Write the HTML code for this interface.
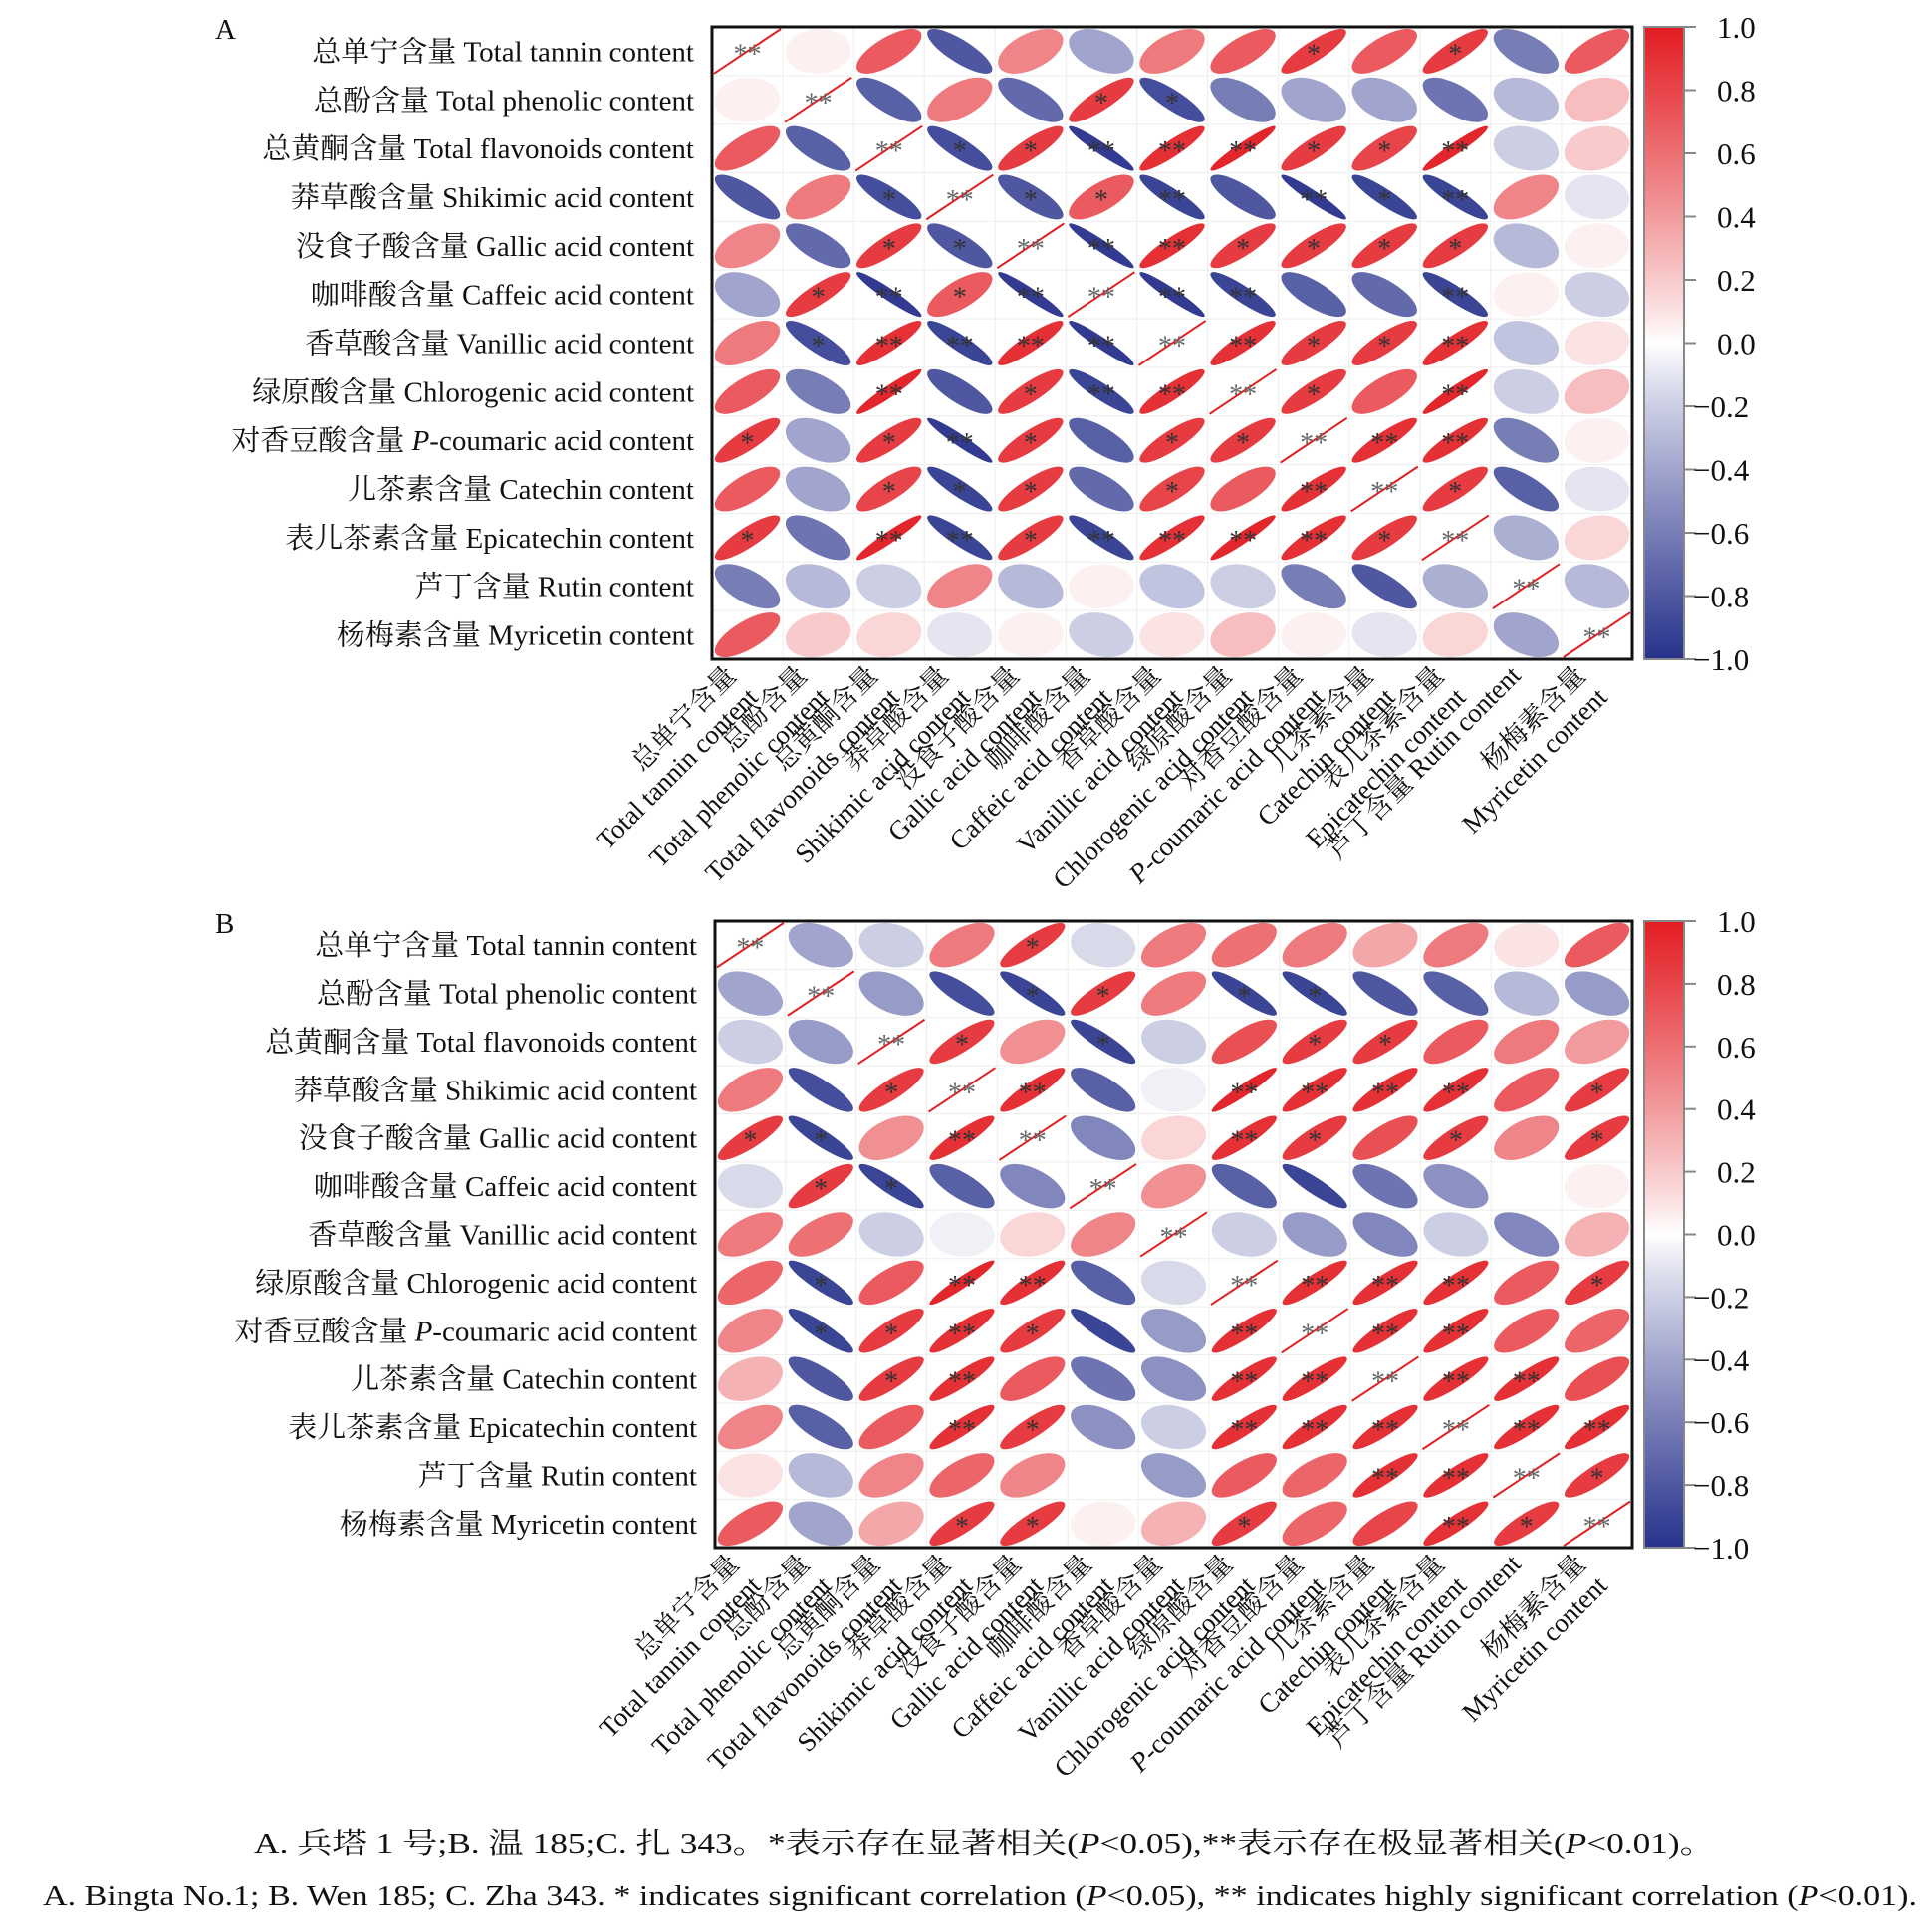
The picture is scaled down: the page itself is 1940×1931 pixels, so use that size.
<!DOCTYPE html>
<html><head><meta charset="utf-8"><style>
html,body{margin:0;padding:0;background:#fff;}
svg text{font-family:"Liberation Serif","Noto Serif CJK SC","Noto Sans CJK SC",serif;fill:#111;}
</style></head><body>
<svg id="s" xmlns="http://www.w3.org/2000/svg" width="1940" height="1926" viewBox="0 0 1940 1926"></svg>
<script>
const S=document.getElementById('s');let h='';
const rows=[["总单宁含量 ","Total tannin content"],["总酚含量 ","Total phenolic content"],["总黄酮含量 ","Total flavonoids content"],["莽草酸含量 ","Shikimic acid content"],["没食子酸含量 ","Gallic acid content"],["咖啡酸含量 ","Caffeic acid content"],["香草酸含量 ","Vanillic acid content"],["绿原酸含量 ","Chlorogenic acid content"],["对香豆酸含量 ","P-coumaric acid content"],["儿茶素含量 ","Catechin content"],["表儿茶素含量 ","Epicatechin content"],["芦丁含量 ","Rutin content"],["杨梅素含量 ","Myricetin content"]];
const A=`1 .05 .7 -.8 .5 -.4 .55 .7 .85a .7 .85a -.6 .7
.05 1 -.75 .55 -.7 .85a -.85a -.6 -.4 -.4 -.65 -.3 .25
.7 -.75 1 -.85a .85a -.95b .9b .95b .85a .8a .95b -.2 .2
-.8 .55 -.85a 1 -.8a .7a -.9b -.8 -.95b -.9a -.9b .5 -.1
.5 -.7 .85a -.8a 1 -.95b .9b .85a .85a .85a .85a -.3 .05
-.4 .85a -.95b .7a -.95b 1 -.95b -.9b -.75 -.7 -.9b .05 -.2
.55 -.85a .9b -.9b .9b -.95b 1 .9b .85a .85a .9b -.25 .1
.7 -.6 .95b -.8 .85a -.9b .9b 1 .85a .7 .95b -.2 .25
.85a -.4 .85a -.95b .85a -.75 .85a .85a 1 .9b .9b -.6 .05
.7 -.4 .8a -.9a .85a -.7 .8a .7 .9b 1 .85a -.75 -.1
.85a -.65 .95b -.9b .85a -.9b .9b .95b .9b .85a 1 -.35 .15
-.6 -.3 -.2 .5 -.3 .05 -.25 -.2 -.6 -.8 -.35 1 -.3
.7 .2 .15 -.1 .05 -.2 .1 .25 .05 -.1 .15 -.4 1`;
const B=`1 -.4 -.2 .55 .85a -.15 .55 .6 .55 .35 .55 .1 .7
-.4 1 -.45 -.85 -.9a .85a .55 -.9a -.9a -.8 -.75 -.3 -.45
-.2 -.45 1 .85a .45 -.9a -.2 .75 .85a .85a .7 .55 .4
.55 -.85 .85a 1 .9b -.75 -.05 .95b .9b .9b .9b .7 .85a
.85a -.9a .45 .9b 1 -.55 .15 .9b .85a .75 .85a .5 .85a
-.15 .85a -.9a -.75 -.55 1 .45 -.75 -.9 -.65 -.5 0 .05
.55 .6 -.2 -.05 .15 .5 1 -.2 -.45 -.55 -.2 -.55 .3
.65 -.9a .7 .95b .9b -.75 -.15 1 .9b .9b .9b .7 .85a
.5 -.9a .85a .9b .85a -.9 -.45 .9b 1 .9b .9b .7 .65
.3 -.8 .85a .9b .7 -.65 -.5 .9b .9b 1 .9b .9b .75
.5 -.75 .7 .9b .85a -.5 -.2 .9b .9b .9b 1 .9b .9b
.1 -.3 .5 .65 .5 0 -.45 .7 .65 .9b .9b 1 .85a
.7 -.4 .35 .85a .85a .05 .3 .85a .65 .8 .9b .85a 1`;
function col(r){let c;if(r>=0){const a=[255,255,255],b=[226,28,34];c=a.map((v,i)=>Math.round(v+(b[i]-v)*Math.pow(r,0.9)));}
else{const a=[255,255,255],b=[40,50,140];r=-r;c=a.map((v,i)=>Math.round(v+(b[i]-v)*Math.pow(r,0.9)));}return `rgb(${c})`;}
function panel(M,x0,y0,x1,y1,lx,letter,lblEnd){
 const cw=(x1-x0)/13,ch=(y1-y0)/13;
 h+=`<text x="${lx}" y="${y0+12}" font-size="29">${letter}</text>`;
 for(let i=0;i<=13;i++){h+=`<line x1="${x0+i*cw}" y1="${y0}" x2="${x0+i*cw}" y2="${y1}" stroke="#eee" stroke-width="1"/><line x1="${x0}" y1="${y0+i*ch}" x2="${x1}" y2="${y0+i*ch}" stroke="#eee" stroke-width="1"/>`;}
 const R=M.trim().split('\n').map(l=>l.trim().split(/\s+/));
 R.forEach((row,i)=>row.forEach((t,j)=>{
  const sig=t.endsWith('a')?'*':t.endsWith('b')?'**':'';const r=parseFloat(t);
  const cx=x0+(j+.5)*cw,cy=y0+(i+.5)*ch;
  if(i==j){h+=`<line x1="${x0+j*cw+2}" y1="${y0+(i+1)*ch-2}" x2="${x0+(j+1)*cw-2}" y2="${y0+i*ch+2}" stroke="#e02020" stroke-width="2"/><text x="${cx}" y="${cy+12}" font-size="28" text-anchor="middle" style="fill:#666">**</text>`;return;}
  const rx=.46*Math.sqrt(1+r),ry=.46*Math.sqrt(1-r);
  h+=`<g transform="translate(${cx},${cy}) scale(${cw},${ch}) rotate(-45)"><ellipse rx="${rx}" ry="${Math.max(ry,.03)}" fill="${col(r)}"/></g>`;
  if(sig)h+=`<text x="${cx}" y="${cy+12}" font-size="28" text-anchor="middle" style="fill:#333">${sig}</text>`;
 }));
 h+=`<rect x="${x0}" y="${y0}" width="${x1-x0}" height="${y1-y0}" fill="none" stroke="#111" stroke-width="3"/>`;
 rows.forEach((r,i)=>{const y=y0+(i+.5)*ch+10;let en=r[1];
  if(en.startsWith('P-'))en='<tspan font-style="italic">P</tspan>'+en.slice(1);
  h+=`<text x="${lblEnd}" y="${y}" font-size="29" text-anchor="end">${r[0]}${en}</text>`;});
 rows.forEach((r,j)=>{const ax=x0+(j+.5)*cw-10,ay=y1+18;let en=r[1];
  if(en.startsWith('P-'))en='<tspan font-style="italic">P</tspan>'+en.slice(1);
  if(j==11){h+=`<text transform="translate(${ax+6},${ay}) rotate(-45)" font-size="27" text-anchor="end">${r[0]}${en}</text>`;return;}
  h+=`<text transform="translate(${ax},${ay}) rotate(-45)" font-size="27" text-anchor="end"><tspan x="0" y="0">${r[0].trim()}</tspan><tspan x="0" y="31">${en}</tspan></text>`;});
 const bx=1651,bw=40,id='g'+letter;
 h+=`<defs><linearGradient id="${id}" x1="0" y1="0" x2="0" y2="1">`;
 for(let k=0;k<=20;k++){const v=1-k/10;h+=`<stop offset="${k/20}" stop-color="${col(v)}"/>`;}
 h+=`</linearGradient></defs><rect x="${bx}" y="${y0}" width="${bw}" height="${y1-y0}" fill="url(#${id})" stroke="#888" stroke-width="2"/>`;
 for(let k=0;k<=10;k++){const v=(1-k*.2);const y=y0+k*(y1-y0)/10;
  h+=`<line x1="${bx+bw}" y1="${y}" x2="${bx+bw+12}" y2="${y}" stroke="#888" stroke-width="2"/>`;
  const s=(Math.abs(v)<1e-9?'0.0':(v<0?'−':'')+Math.abs(v).toFixed(1));
  h+=`<text x="${v<0?1700:1724}" y="${y+11}" font-size="31">${s}</text>`;}
}
panel(A,715,27,1639,662,216,'A',697);
panel(B,718,925,1639,1554,216,'B',700);
h+=`<text x="255" y="1861" font-size="29" textLength="1467" lengthAdjust="spacingAndGlyphs">A. 兵塔 1 号;B. 温 185;C. 扎 343。*表示存在显著相关(<tspan font-style="italic">P</tspan>&lt;0.05),**表示存在极显著相关(<tspan font-style="italic">P</tspan>&lt;0.01)。</text>`;
h+=`<text x="43" y="1913" font-size="29" textLength="1882" lengthAdjust="spacingAndGlyphs">A. Bingta No.1; B. Wen 185; C. Zha 343. * indicates significant correlation (<tspan font-style="italic">P</tspan>&lt;0.05), ** indicates highly significant correlation (<tspan font-style="italic">P</tspan>&lt;0.01).</text>`;
S.innerHTML=h;
</script>
</body></html>
